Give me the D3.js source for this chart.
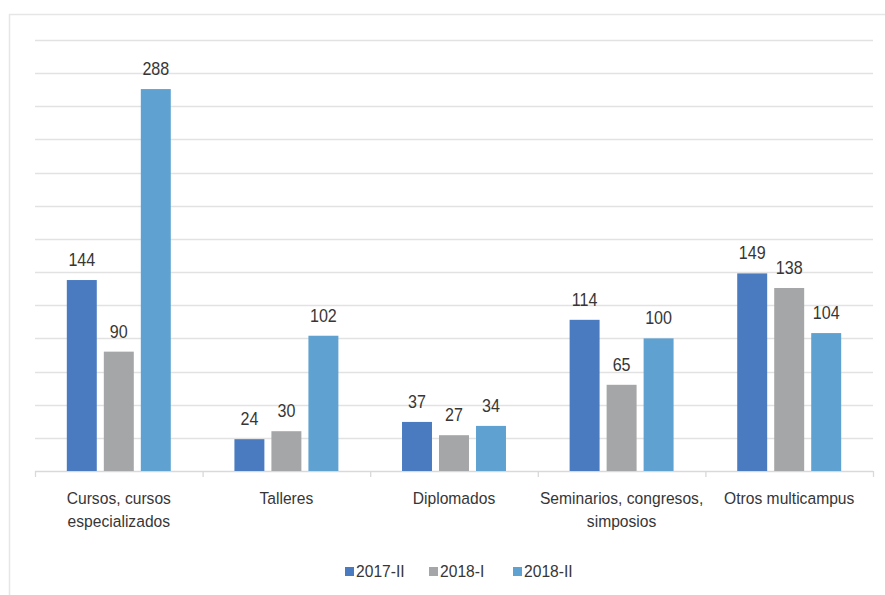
<!DOCTYPE html>
<html>
<head>
<meta charset="utf-8">
<script src="https://cdn.jsdelivr.net/npm/d3@7/dist/d3.min.js"></script>
<style>
  html, body { margin: 0; padding: 0; background: #ffffff; }
  svg { display: block; }
  text { font-family: "Liberation Sans", Arial, Helvetica, sans-serif; fill: #363636; }
</style>
</head>
<body>
<svg id="chart" width="885" height="595"></svg>
<script>
// Activity categories (multi-line labels)
const categories = [
  ["Cursos, cursos", "especializados"],
  ["Talleres"],
  ["Diplomados"],
  ["Seminarios, congresos,", "simposios"],
  ["Otros multicampus"]
];
const seriesNames = ["2017-II", "2018-I", "2018-II"];
const values2017II = [144, 24, 37, 114, 149];
const values2018I  = [90, 30, 27, 65, 138];
const values2018II = [288, 102, 34, 100, 104];
const seriesColors = ["#4a7bc1", "#a5a6a7", "#5fa2d2"];
const yTicks = d3.range(0, 326, 25);

const seriesValues = [values2017II, values2018I, values2018II];
const catKeys = categories.map(c => c.join(" "));

const svg = d3.select("#chart");
const plotLeft = 35, plotRight = 873, plotTop = 40, plotBottom = 471;
const narrow = 0.92; // horizontal squeeze for a condensed look

// Places a horizontally condensed text at (x, y)
function condensedText(parent, x, y, size, anchor) {
  return parent.append("text")
    .attr("transform", `translate(${x},${y}) scale(${narrow},1)`)
    .attr("font-size", size).attr("text-anchor", anchor || "middle");
}

// Outer frame lines (left and top)
svg.append("line").attr("x1", 9.5).attr("x2", 9.5).attr("y1", 14).attr("y2", 595)
  .attr("stroke", "#e6e6e6").attr("stroke-width", 1.5);
svg.append("line").attr("x1", 9).attr("x2", 885).attr("y1", 14.5).attr("y2", 14.5)
  .attr("stroke", "#e6e6e6").attr("stroke-width", 1.5);

const x0 = d3.scaleBand().domain(catKeys).range([plotLeft, plotRight]).padding(0);
const x1 = d3.scaleBand().domain(seriesNames).range([0, x0.bandwidth()])
  .paddingInner(0.19).paddingOuter(0.86);
const y = d3.scaleLinear().domain([0, 325]).range([plotBottom, plotTop]);

// Horizontal gridlines
svg.append("g").selectAll("line").data(yTicks.filter(t => t > 0)).join("line")
  .attr("x1", plotLeft).attr("x2", plotRight)
  .attr("y1", d => Math.round(y(d)) + 0.5).attr("y2", d => Math.round(y(d)) + 0.5)
  .attr("stroke", "#e2e2e2").attr("stroke-width", 1.3);

// Category axis with boundary ticks
const axisG = svg.append("g");
axisG.append("line").attr("x1", plotLeft).attr("x2", plotRight)
  .attr("y1", plotBottom + 0.5).attr("y2", plotBottom + 0.5)
  .attr("stroke", "#d9d9d9").attr("stroke-width", 1.3);
const bounds = catKeys.map(k => x0(k)).concat([plotRight]);
axisG.selectAll("line.tick").data(bounds).join("line").attr("class", "tick")
  .attr("x1", d => d + 0.5).attr("x2", d => d + 0.5)
  .attr("y1", plotBottom).attr("y2", plotBottom + 6)
  .attr("stroke", "#d9d9d9").attr("stroke-width", 1.3);

// Bars and value labels
const barLayer = svg.append("g");
const labelLayer = svg.append("g");
catKeys.forEach((k, ci) => {
  const gx = x0(k);
  seriesNames.forEach((s, si) => {
    const v = seriesValues[si][ci];
    barLayer.append("rect")
      .attr("x", gx + x1(s)).attr("width", x1.bandwidth())
      .attr("y", y(v)).attr("height", y(0) - y(v))
      .attr("fill", seriesColors[si]);
    condensedText(labelLayer, gx + x1(s) + x1.bandwidth() / 2, y(v) - 14, 17.5).text(v);
  });
});

// Category labels
const catLayer = svg.append("g");
categories.forEach((lines, i) => {
  const cx = x0(catKeys[i]) + x0.bandwidth() / 2;
  lines.forEach((ln, li) => {
    condensedText(catLayer, cx, 504 + li * 23, 17).text(ln);
  });
});

// Legend
const legendX = [345, 429, 513];
const legend = svg.append("g");
seriesNames.forEach((name, i) => {
  legend.append("rect").attr("x", legendX[i]).attr("y", 567)
    .attr("width", 9).attr("height", 9).attr("fill", seriesColors[i]);
  condensedText(legend, legendX[i] + 11, 576.5, 17, "start").text(name);
});
</script>
</body>
</html>
